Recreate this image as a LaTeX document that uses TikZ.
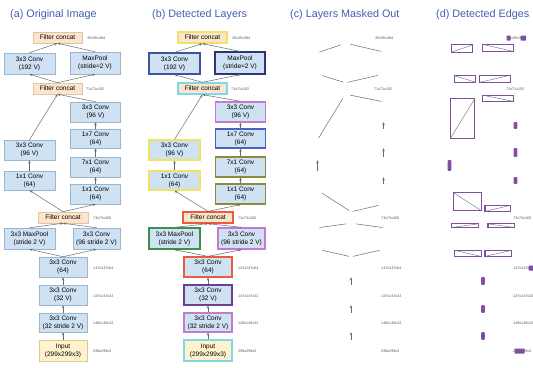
\documentclass[tikz,border=0pt]{standalone}
\usepackage{fontspec}
\setmainfont{Liberation Sans}
\usetikzlibrary{arrows.meta, calc}

\definecolor{boxfill}{HTML}{CFE2F3}
\definecolor{boxline}{HTML}{9DB5CC}
\definecolor{catfill}{HTML}{FCE5CD}
\definecolor{catline}{HTML}{E2C4A2}
\definecolor{infill}{HTML}{FFF2CC}
\definecolor{inline}{HTML}{D8CB95}
\definecolor{titleblue}{HTML}{3F5FAF}
\definecolor{edgegray}{HTML}{6A6A6A}
\definecolor{dimgray}{HTML}{555555}
\definecolor{cYellow}{HTML}{F2E262}
\definecolor{cDarkBlue}{HTML}{3F51A3}
\definecolor{cNavy}{HTML}{2C3576}
\definecolor{cCyan}{HTML}{7FD8E6}
\definecolor{cPink}{HTML}{C679CF}
\definecolor{cBlue}{HTML}{4A62C4}
\definecolor{cOlive}{HTML}{8B8A3E}
\definecolor{cRed}{HTML}{EE5A3C}
\definecolor{cGreen}{HTML}{3E8E4E}
\definecolor{cPurple}{HTML}{6E3F91}
\definecolor{edgepurple}{HTML}{7E4FA3}

% one copy of the network, #1 = panel, #2 = horizontal shift
\newcommand{\layers}[2]{%
  \begin{scope}[xshift=#2]
    \node[cat, p#1, hue#1=cYellow] (#1-fc1) at (57.5,37.5) {Filter concat};
    \node[box, p#1, hue#1=cDarkBlue, minimum width=51pt, minimum height=21pt] (#1-c192) at (29.5,63.5) {3x3 Conv\\(192 V)};
    \node[box, p#1, hue#1=cNavy, minimum height=22pt] (#1-mp) at (95,63) {MaxPool\\(stride=2 V)};
    \node[cat, p#1, hue#1=cCyan] (#1-fc2) at (57.5,88.5) {Filter concat};
    \node[box, p#1, hue#1=cPink] (#1-r1) at (95.5,112) {3x3 Conv\\(96 V)};
    \node[box, p#1, hue#1=cBlue, minimum height=19pt] (#1-r2) at (95.5,138.5) {1x7 Conv\\(64)};
    \node[box, p#1, hue#1=cOlive] (#1-r3) at (95.5,167) {7x1 Conv\\(64)};
    \node[box, p#1, hue#1=cOlive] (#1-r4) at (95.5,194) {1x1 Conv\\(64)};
    \node[box, p#1, hue#1=cYellow, minimum width=51pt] (#1-l1) at (29.5,150) {3x3 Conv\\(96 V)};
    \node[box, p#1, hue#1=cYellow, minimum width=51pt, minimum height=19pt] (#1-l2) at (29.5,180.5) {1x1 Conv\\(64)};
    \node[cat, p#1, hue#1=cRed, minimum width=50pt] (#1-fc3) at (63,217.5) {Filter concat};
    \node[box, p#1, hue#1=cGreen, minimum width=51pt, minimum height=21pt] (#1-mp2) at (29.5,238.5) {3x3 MaxPool\\(stride 2 V)};
    \node[box, p#1, hue#1=cPink, minimum width=47pt, minimum height=21pt] (#1-c96s) at (96.5,238.5) {3x3 Conv\\(96 stride 2 V)};
    \node[box, p#1, hue#1=cRed, minimum width=48pt] (#1-c64) at (63,267) {3x3 Conv\\(64)};
    \node[box, p#1, hue#1=cPurple, minimum width=48pt] (#1-c32) at (63,295) {3x3 Conv\\(32 V)};
    \node[box, p#1, hue#1=cPink, minimum width=48pt, minimum height=19pt] (#1-c32s) at (63,322.5) {3x3 Conv\\(32 stride 2 V)};
    \node[inp, p#1, hue#1=cCyan, minimum width=48pt, minimum height=21pt] (#1-in) at (63,350.5) {Input\\(299x299x3)};
    % sizes
    \node[dim] (#1-s1) at (87,38) {35x35x384};
    \node[dim] (#1-s2) at (86,89) {71x71x192};
    \node[dim] (#1-s3) at (93,218) {73x73x160};
    \node[dim] (#1-s4) at (93,268) {147x147x64};
    \node[dim] (#1-s5) at (93,296) {147x147x32};
    \node[dim] (#1-s6) at (93,323) {149x149x32};
    \node[dim] (#1-s7) at (93,351) {299x299x3};
  \end{scope}}

\begin{document}
\begin{tikzpicture}[
    x=1pt, y=-1pt,
    box/.style={draw=boxline, fill=boxfill, rectangle, minimum width=50pt, minimum height=20pt, inner sep=1pt, align=center, font=\fontsize{6.5}{8}\selectfont},
    cat/.style={box, fill=catfill, draw=catline, minimum width=49pt, minimum height=11pt},
    inp/.style={box, fill=infill, draw=inline},
    pa/.style={line width=0.5pt},
    pb/.style={line width=1.3pt},
    pc/.style={draw=none, fill=none, text opacity=0, font=\fontsize{2}{2}\selectfont},
    pd/.style={pc},
    huea/.style={}, hueb/.style={draw=#1}, huec/.style={}, hued/.style={},
    dim/.style={anchor=west, inner sep=0pt, font=\fontsize{3.7}{4}\selectfont, text=dimgray},
    ttl/.style={anchor=base west, inner sep=0pt, font=\fontsize{10.8}{12}\selectfont, text=titleblue},
    arr/.style={draw=edgegray, line width=0.5pt, -{Stealth[length=3pt, width=2.5pt]}},
    masked/.style={draw=edgegray, line width=0.5pt, shorten <=2pt, shorten >=5pt},
    ebox/.style={draw=edgepurple, line width=1.1pt},
    ediag/.style={draw=edgegray, line width=0.4pt},
    etick/.style={fill=edgepurple, rounded corners=0.8pt},
    emark/.style={fill=edgepurple, rounded corners=0.5pt}
]
\useasboundingbox (0,0) rectangle (533,367);

    % Titles
    \node[ttl] (ta) at (10,17.5) {(a) Original Image};
    \node[ttl] (tb) at (152,17.5) {(b) Detected Layers};
    \node[ttl] (tc) at (290,17.5) {(c) Layers Masked Out};
    \node[ttl] (td) at (436,17.5) {(d) Detected Edges};

    % Panels
    \layers{a}{0}
    \layers{b}{145}
    \layers{c}{288}
    \layers{d}{420}

    % Connections
    \foreach \p in {a,b} {
      \foreach \s/\t in {c192/fc1, mp/fc1, fc2/c192, fc2/mp, l1/fc2, r1/fc2, fc3/l2, fc3/r4, mp2/fc3, c96s/fc3, c64/mp2, c64/c96s, r2/r1, r3/r2, r4/r3, l2/l1, c32/c64, c32s/c32, in/c32s}
        \draw[arr] (\p-\s.north) -- (\p-\t.south);
    }

    % Masked layers
    \foreach \s/\t in {c192/fc1, mp/fc1, fc2/c192, fc2/mp, l1/fc2, r1/fc2, fc3/l2, fc3/r4, mp2/fc3, c96s/fc3, c64/mp2, c64/c96s}
      \draw[masked] (c-\s.north) -- (c-\t.south);
    \foreach \s/\t in {r2/r1, r3/r2, r4/r3, l2/l1, c32/c64, c32s/c32, in/c32s}
      \draw[arr] (c-\s.north) -- (c-\t.south);

    % Detected edges
    \foreach \s/\t in {c192/fc1, mp/fc1, fc2/c192, fc2/mp, l1/fc2, r1/fc2, fc3/l2, fc3/r4, mp2/fc3, c96s/fc3, c64/mp2, c64/c96s} {
      \coordinate (p) at ($(d-\s.north)!2pt!(d-\t.south)$);
      \coordinate (q) at ($(d-\t.south)!5pt!(d-\s.north)$);
      \draw[ebox] (p) rectangle (q);
      \draw[ediag] (p) -- (q);
    }
    \foreach \s/\t in {r2/r1, r3/r2, r4/r3, l2/l1, c32/c64, c32s/c32, in/c32s}
      \fill[etick] ($(d-\s.north)+(-1.8,0)$) rectangle ($(d-\t.south)+(1.8,0)$);
    \fill[emark] ($(d-s1.west)+(-0.5,-2.5)$) rectangle ++(4,5);
    \fill[emark] ($(d-s1.east)+(-5,-2.5)$) rectangle ++(5.5,5);
    \fill[emark] ($(d-s4.east)+(-5,-2.5)$) rectangle ++(6,5);
    \fill[emark] ($(d-s7.west)+(1.5,-2.5)$) rectangle ++(10,5);

\end{tikzpicture}
\end{document}
